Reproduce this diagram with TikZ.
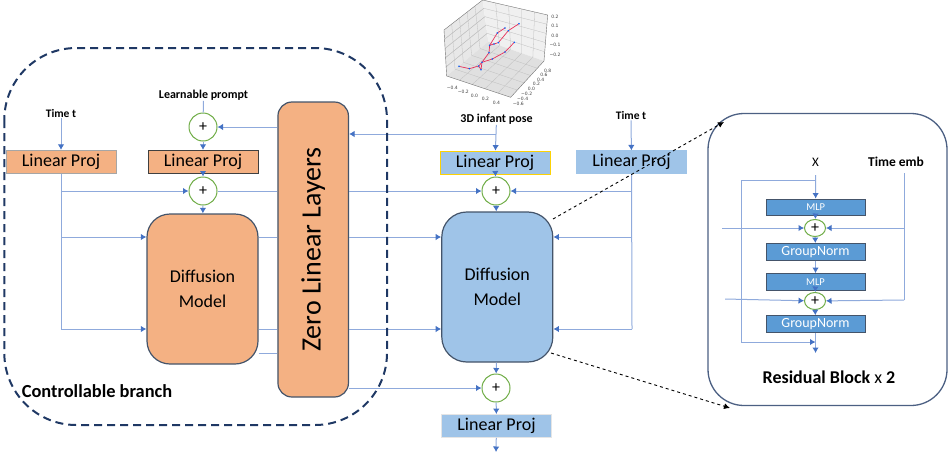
\documentclass[tikz,border=0pt]{standalone}
\usepackage{fontspec}
\setmainfont{Carlito}
\newfontfamily\plotfont{DejaVu Sans}
\usepackage{xcolor}
\usepackage{tikz}
\usetikzlibrary{positioning}
\usetikzlibrary{arrows.meta,shapes.geometric}
\usetikzlibrary{calc}
\definecolor{orangefill}{HTML}{F4B183}
\definecolor{bluefill}{HTML}{9FC4E8}
\definecolor{mlpfill}{HTML}{5B9BD5}
\definecolor{linecol}{HTML}{8FAADC}
\definecolor{tipcol}{HTML}{4472C4}
\definecolor{edgecol}{HTML}{44546A}
\definecolor{navy}{HTML}{1F3864}
\definecolor{plusgreen}{HTML}{70AD47}
\definecolor{bonecol}{HTML}{E8305A}
\newcommand{\fs}[1]{\fontsize{#1}{#1}\selectfont}
\tikzstyle{edge} = [draw=linecol,line width=1pt,-{Latex[length=5.5pt,width=6.5pt,color=tipcol]}]
\tikzstyle{undirectededge} = [draw=linecol,line width=1pt]
\tikzstyle{plus} = [circle,draw=plusgreen,line width=1pt,fill=white,minimum size=28pt,inner sep=0pt,font=\fs{16}]
\tikzstyle{smallplus} = [ellipse,draw=plusgreen,line width=1pt,fill=white,minimum width=21pt,minimum height=17pt,inner sep=0pt,font=\fs{16}]
\tikzstyle{lin} = [rectangle,draw,line width=0.8pt,minimum width=110pt,minimum height=23pt,inner sep=0pt,font=\fs{18}]
\tikzstyle{block} = [rectangle,rounded corners=23pt,draw=edgecol,line width=1.2pt,inner sep=0pt,font=\fs{18},align=center]
\tikzstyle{res} = [rectangle,draw=edgecol,line width=1pt,fill=mlpfill,text=white,minimum width=99pt,minimum height=16.5pt,inner sep=0pt]
\tikzstyle{lab} = [font=\bfseries\fs{11.5},inner sep=0pt]
\tikzstyle{tick} = [font=\plotfont\fs{4.5},inner sep=0pt,text=black!75]
\tikzstyle{zoomline} = [draw=black,dashed,line width=0.9pt,-{Latex[length=6pt,width=6pt]}]

\begin{document}
\begin{tikzpicture}[x=1pt,y=-1pt]
 \useasboundingbox (0,0) rectangle (952,453);

 %3D plot
 \begin{scope}[shift={(420,0)},x=0.3333pt,y=-0.3333pt]
  \foreach \x/\y/\name in {72/90/pa,188/0/pb,383/45/pc,205/125/pd,80/228/pe,372/183/pf,272/292/pg}
     \coordinate (\name) at (\x,\y);
  \fill[black!9] (pa) -- (pb) -- (pd) -- (pe) -- cycle;
  \fill[black!6] (pb) -- (pc) -- (pf) -- (pd) -- cycle;
  \fill[black!12] (pe) -- (pd) -- (pf) -- (pg) -- cycle;
  \foreach \t in {0.2,0.4,0.6,0.8} {
     \draw[black!25,line width=0.3pt] ($(pa)!\t!(pb)$) -- ($(pe)!\t!(pd)$) -- ($(pg)!\t!(pf)$);
     \draw[black!25,line width=0.3pt] ($(pb)!\t!(pc)$) -- ($(pd)!\t!(pf)$) -- ($(pe)!\t!(pg)$);
     \draw[black!25,line width=0.3pt] ($(pa)!\t!(pe)$) -- ($(pb)!\t!(pd)$) -- ($(pc)!\t!(pf)$);
     \draw[black!25,line width=0.3pt] ($(pe)!\t!(pa)$) -- ($(pd)!\t!(pb)$);
  }
  \draw[black!55,line width=0.4pt] (pa) -- (pb) -- (pc) -- (pf) -- (pg) -- (pe) -- cycle;

  \foreach \x/\y/\name/\label in {97/265/xa/−0.4,130/275/xb/−0.2,163/287/xc/0.0,196/297/xd/0.2,229/310/xe/0.4,
      295/313/ya/−0.6,308/297/yb/−0.4,320/282/yc/−0.2,334/267/yd/0.0,349/253/ye/0.2,362/239/yf/0.4,372/225/yg/0.6,383/212/yh/0.8,
      405/50/za/0.2,405/79/zb/0.1,405/108/zc/0.0,405/136/zd/−0.1,405/164/ze/−0.2}
     \node[tick] (\name) at (\x,\y) {\label};

  \foreach \x/\y/\name in {117/199/ja,148/206/jb,176/198/jc,186/187/jd,217/177/je,255/156/jf,283/127/jg,183/209/jh,
      207/158/ji,209/136/jj,232/99/jk,255/84/jl,222/132/jm,235/128/jn,265/92/jo,297/71/jp}
     \coordinate (\name) at (\x,\y);
  \draw[bonecol,line width=0.7pt] (ja) -- (jb) -- (jc) -- (jd) -- (je) -- (jf) -- (jg);
  \draw[bonecol,line width=0.7pt] (jh) -- (jd) -- (ji) -- (jj) -- (jk) -- (jl);
  \draw[bonecol,line width=0.7pt] (jj) -- (jm) -- (jn) -- (jo) -- (jp);
  \draw[bonecol,line width=0.7pt] (jh) -- (jc);
  \foreach \name in {ja,jb,jc,jd,je,jf,jg,jh,ji,jj,jk,jl,jm,jn,jo,jp}
     \fill[blue!60!cyan] (\name) circle (0.9pt);
 \end{scope}

 %controllable branch
 \foreach \x/\y/\name/\label in {61/114/timel/Time t}
    \node[lab] (\name) at (\x,\y) {\label};
 \node[lab,font=\bfseries\fs{12}] (prompt) at (203.5,95.5) {Learnable prompt};
 \node[lin,draw=black!35,fill=orangefill] (linl) at (61,161.8) {Linear Proj};
 \node[lin,draw=black!75,fill=orangefill] (linp) at (203,161.8) {Linear Proj};
 \node[plus] (plusp) at (203,127) {+};
 \node[plus] (plusl) at (203,191) {+};
 \node[block,fill=orangefill,minimum width=111pt,minimum height=150pt] (diffl) at (202.5,289) {Diffusion\\[7pt]Model};
 \node[block,rounded corners=14pt,fill=orangefill,minimum width=70.5pt,minimum height=295pt] (zero) at (313.2,249.5) {\rotatebox{90}{\fs{28}Zero Linear Layers}};
 \node[font=\bfseries\fs{18.4},inner sep=0pt] (ctrl) at (97,391) {Controllable branch};

 %main branch
 \node[font=\bfseries\fs{12},inner sep=0pt] (pose) at (496.5,119.5) {3D infant pose};
 \node[lab] (timer) at (631,116) {Time t};
 \node[lin,draw=yellow!70!orange,fill=bluefill] (linb) at (495,162.5) {Linear Proj};
 \node[lin,draw=bluefill,fill=bluefill] (linr) at (631.5,162.3) {Linear Proj};
 \node[plus] (plusb) at (496,191) {+};
 \node[block,rounded corners=25pt,fill=bluefill,minimum width=111pt,minimum height=150pt] (diffb) at (497.3,287) {Diffusion\\[7pt]Model};
 \node[plus] (plusd) at (496,388) {+};
 \node[lin,draw=black!10,fill=bluefill] (lind) at (496.5,426) {Linear Proj};
 \coordinate (outd) at (496,452);
 \coordinate (posejoin) at (496,134);

 %left wires
 \coordinate (tap) at (61,329);
 \draw[undirectededge] (linl) -- (tap);
 \draw[edge] (tap) -- (diffl.west |- tap);
 \draw[edge] (61,237) -- (diffl.west |- 0,237);
 \draw[edge] (linl.south |- plusl) -- (plusl);
 \draw[edge] (zero.west |- plusp) -- (plusp);
 \draw[undirectededge] (plusl) -- (zero.west |- plusl);
 \foreach \y in {237,329,353}
    \draw[undirectededge] (diffl.east |- 0,\y) -- (zero.west |- 0,\y);
 \foreach \source/ \dest in {timel/linl, plusp/linp, linp/plusl, plusl/diffl}
    \path[edge] (\source) -- (\dest);
 \draw[undirectededge] (prompt) -- (plusp);

 %middle wires
 \draw[undirectededge] (pose) -- (posejoin);
 \draw[edge] (posejoin) -- (zero.east |- posejoin);
 \draw[edge] (posejoin) -- (linb);
 \draw[edge] (zero.east |- plusb) -- (plusb);
 \draw[edge] (zero.east |- plusd) -- (plusd);
 \foreach \y in {237,329}
    \draw[edge] (zero.east |- 0,\y) -- (diffb.west |- 0,\y);
 \foreach \source/ \dest in {linb/plusb, plusb/diffb, diffb/plusd, plusd/lind, lind/outd}
    \path[edge] (\source) -- (\dest);

 %right wires
 \coordinate (tapr) at (632,329);
 \draw[edge] (timer) -- (linr);
 \draw[undirectededge] (linr) -- (tapr);
 \draw[edge] (tapr) -- (diffb.east |- tapr);
 \draw[edge] (632,237) -- (diffb.east |- 0,237);
 \draw[edge] (linr.south |- plusb) -- (plusb);

 \draw[navy,line width=2pt,dash pattern=on 8pt off 5pt,rounded corners=72pt] (4.3,48) rectangle (387,425);

 %residual block
 \node[rectangle,rounded corners=36pt,draw=navy!80,line width=1.3pt,fill=white,minimum width=239pt,minimum height=292pt] (resbox) at (827.5,259.5) {};
 \node[inner sep=0pt,font=\fs{13}] (xin) at (815.5,162) {X};
 \node[inner sep=0pt,font=\bfseries\fs{13.5}] (timeemb) at (896,162) {Time emb};
 \node[res,font=\fs{10.5}] (mlpa) at (815.7,207.3) {MLP};
 \node[smallplus] (resa) at (815,228) {+};
 \node[res,font=\fs{14}] (norma) at (815.5,251.8) {GroupNorm};
 \node[res,font=\fs{10.5}] (mlpb) at (815.5,281.8) {MLP};
 \node[smallplus] (resb) at (815,301) {+};
 \node[res,font=\fs{14}] (normb) at (815.5,324) {GroupNorm};
 \node[inner sep=0pt,font=\fs{18}] (rescap) at (829,377) {\textbf{Residual Block} x \textbf{2}};

 \foreach \x/\y/\name in {815.5/175/xtop,815.5/180/xsplit,741/180/skipa,741/342/skipb,815.5/342/skipc,815.5/353/resout,
     904/173/emba,904/228/embb,904/300/embc,722/228/ina,725/299/inb}
    \coordinate (\name) at (\x,\y);
 \draw[undirectededge] (xsplit) -- (skipa) -- (skipb);
 \draw[edge] (skipb) -- (skipc);
 \draw[edge] (xtop) -- (mlpa);
 \draw[undirectededge] (emba) -- (embc);
 \draw[edge] (embc) -- (resb);
 \draw[edge] (embb) -- (resa);
 \draw[edge] (ina) -- (resa);
 \draw[edge] (inb) -- (resb);
 \foreach \source/ \dest in {mlpa/resa, resa/norma, norma/mlpb, mlpb/resb, resb/normb, normb/resout}
    \path[edge] (\source) -- (\dest);

 %zoom lines
 \coordinate (zooma) at (724,122);
 \coordinate (zoomb) at (730,408);
 \draw[zoomline] (553,219) -- (zooma);
 \draw[zoomline] (551,353) -- (zoomb);
\end{tikzpicture}
\end{document}
